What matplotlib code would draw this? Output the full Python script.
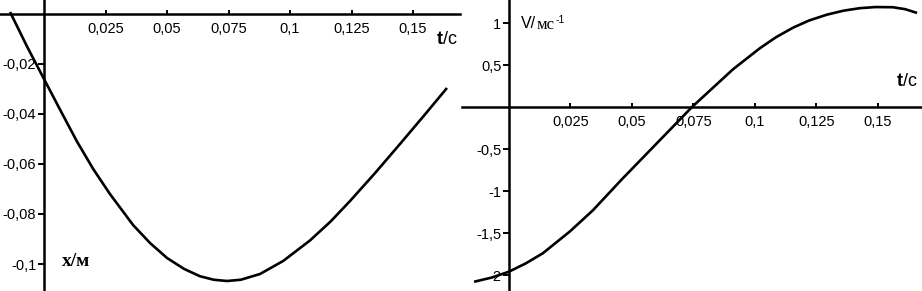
import matplotlib
matplotlib.use("Agg")
import matplotlib.pyplot as plt

# ---- data ----
t_x = [-0.0138, -0.0070, 0.0, 0.0067, 0.0134, 0.0200, 0.0268, 0.0362, 0.0431,
       0.0500, 0.0570, 0.0634, 0.0690, 0.0744, 0.0800, 0.0878, 0.0972, 0.1081,
       0.1165, 0.1244, 0.1345, 0.1447, 0.1545, 0.1638]
x_vals = [0.0008, -0.0128, -0.0260, -0.0386, -0.0510, -0.0620, -0.0720, -0.0844,
          -0.0916, -0.0976, -0.1020, -0.1049, -0.1063, -0.1068, -0.1063, -0.1040,
          -0.0988, -0.0906, -0.0830, -0.0748, -0.0637, -0.0520, -0.0406, -0.0296]

t_v = [-0.0142, -0.0070, 0.0, 0.0069, 0.0138, 0.0248, 0.0341, 0.0459, 0.0585,
       0.0744, 0.0911, 0.1020, 0.1085, 0.1155, 0.1220, 0.1293, 0.1360, 0.1427,
       0.1490, 0.1560, 0.1610, 0.1659]
v_vals = [-2.08, -2.03, -1.96, -1.86, -1.74, -1.48, -1.23, -0.86, -0.48, 0.0,
          0.45, 0.70, 0.83, 0.945, 1.03, 1.10, 1.147, 1.177, 1.19, 1.188, 1.165,
          1.12]

t_ticks = [0.025, 0.05, 0.075, 0.1, 0.125, 0.15]
t_ticklabels = ["0,025", "0,05", "0,075", "0,1", "0,125", "0,15"]
x_ticks = [-0.02, -0.04, -0.06, -0.08, -0.1]
x_ticklabels = ["-0,02", "-0,04", "-0,06", "-0,08", "-0,1"]
v_ticks = [1, 0.5, -0.5, -1, -1.5, -2]
v_ticklabels = ["1", "0,5", "-0,5", "-1", "-1,5", "-2"]

W, H = 922, 291
fig = plt.figure(figsize=(W / 100, H / 100), dpi=100)
fig.patch.set_facecolor("white")

SANS = "Liberation Sans"
SERIF = "Liberation Serif"
LW_AX = 1.8
LW_CURVE = 1.9


def style_axes(ax, xticks, xlabels, yticks, ylabels):
    for s in ("top", "right"):
        ax.spines[s].set_visible(False)
    ax.spines["left"].set_position(("data", 0))
    ax.spines["bottom"].set_position(("data", 0))
    for s in ("left", "bottom"):
        ax.spines[s].set_linewidth(LW_AX)
        ax.spines[s].set_color("black")
    ax.set_xticks(xticks)
    ax.set_xticklabels(xlabels, fontfamily=SANS, fontsize=10.5)
    ax.set_yticks(yticks)
    ax.set_yticklabels(ylabels, fontfamily=SANS, fontsize=10.5)
    ax.tick_params(axis="x", direction="in", length=3.0, width=1.4, pad=5.5)
    ax.tick_params(axis="y", direction="out", length=4.5, width=1.4, pad=1.0)
    ax.patch.set_alpha(0)


# left panel
ax1 = fig.add_axes([0, 0, 460 / W, 1])
ax1.plot(t_x, x_vals, color="black", lw=LW_CURVE, solid_capstyle="butt",
         solid_joinstyle="round")
ax1.set_xlim(-0.01789, 0.1691)
ax1.set_ylim(-0.1108, 0.0056)
style_axes(ax1, t_ticks, t_ticklabels, x_ticks, x_ticklabels)

# right panel
ax2 = fig.add_axes([462 / W, 0, 460 / W, 1])
ax2.plot(t_v, v_vals, color="black", lw=LW_CURVE, solid_capstyle="butt",
         solid_joinstyle="round")
ax2.set_xlim(-0.0191, 0.1679)
ax2.set_ylim(-2.190, 1.274)
style_axes(ax2, t_ticks, t_ticklabels, v_ticks, v_ticklabels)


def ftext(px, py, s, **kw):
    fig.text(px / W, 1 - py / H, s, **kw)


# axis labels
ftext(437, 40, "t", fontfamily=SANS, fontsize=13, fontweight="bold", va="center", ha="left")
ftext(443, 40, "/с", fontfamily=SANS, fontsize=13, va="center", ha="left")
ftext(897, 81, "t", fontfamily=SANS, fontsize=13, fontweight="bold", va="center", ha="left")
ftext(903, 81, "/с", fontfamily=SANS, fontsize=13, va="center", ha="left")

ftext(62, 262, "х/м", fontfamily=SERIF, fontsize=14, fontweight="bold", va="center", ha="left")

ftext(521, 24, "V/", fontfamily=SANS, fontsize=11.5, va="center", ha="left")
ftext(537, 25, "мс", fontfamily=SERIF, fontsize=12, va="center", ha="left")
ftext(556, 20, "-1", fontfamily=SANS, fontsize=7.5, va="center", ha="left")

fig.savefig("out.png", dpi=100, facecolor="white")
